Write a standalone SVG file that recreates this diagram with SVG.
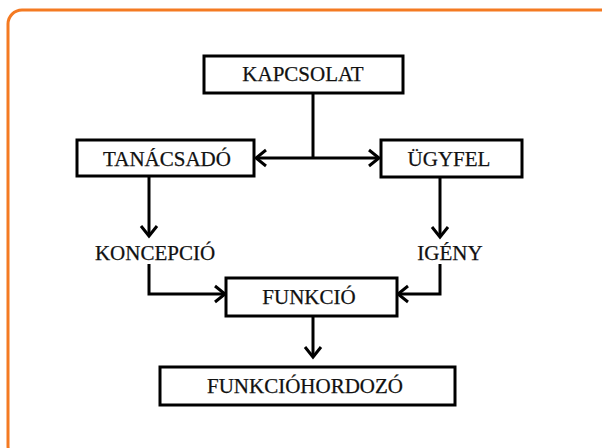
<svg xmlns="http://www.w3.org/2000/svg" width="602" height="448" viewBox="0 0 602 448">
  <style>
    .box { fill: #ffffff; stroke: #000000; stroke-width: 3; }
    .lbl { font-family: "Liberation Serif", "Times New Roman", serif; font-size: 21px; fill: #111111; text-anchor: middle; stroke: #111111; stroke-width: 0.25; }
    .wire { fill: none; stroke: #000000; stroke-width: 3; }
  </style>
  <defs>
    <marker id="chev" markerUnits="userSpaceOnUse" markerWidth="24" markerHeight="24" viewBox="-14 -12 16 24" refX="0" refY="0" orient="auto">
      <path d="M-10,-8 L0,0 L-10,8" fill="none" stroke="#000000" stroke-width="3" stroke-linejoin="miter"/>
    </marker>
  </defs>

  <rect width="602" height="448" fill="#ffffff"/>
  <!-- frame -->
  <rect x="8" y="10" width="620" height="450" rx="14" fill="none" stroke="#F47A22" stroke-width="3"/>

  <!-- connectors -->
  <g id="connectors">
    <path class="wire" d="M313,93 V158"/>
    <path class="wire" d="M313,158 H256" marker-end="url(#chev)"/>
    <path class="wire" d="M313,158 H379" marker-end="url(#chev)"/>
    <path class="wire" d="M149,176 V236" marker-end="url(#chev)"/>
    <path class="wire" d="M440,177 V237" marker-end="url(#chev)"/>
    <path class="wire" d="M149,264 V294 H225" marker-end="url(#chev)"/>
    <path class="wire" d="M440,264 V294 H398" marker-end="url(#chev)"/>
    <path class="wire" d="M313,316 V357" marker-end="url(#chev)"/>
  </g>

  <g id="kapcsolat">
    <rect class="box" x="204" y="56" width="199" height="37"/>
    <text class="lbl" x="303" y="81">KAPCSOLAT</text>
  </g>
  <g id="tanacsado">
    <rect class="box" x="77" y="140" width="177" height="36"/>
    <text class="lbl" x="167" y="166">TANÁCSADÓ</text>
  </g>
  <g id="ugyfel">
    <rect class="box" x="381" y="140" width="141" height="37"/>
    <text class="lbl" x="449" y="166">ÜGYFEL</text>
  </g>
  <g id="koncepcio">
    <text class="lbl" x="155" y="260">KONCEPCIÓ</text>
  </g>
  <g id="igeny">
    <text class="lbl" x="450" y="260">IGÉNY</text>
  </g>
  <g id="funkcio">
    <rect class="box" x="226" y="278" width="171" height="38"/>
    <text class="lbl" x="309" y="304">FUNKCIÓ</text>
  </g>
  <g id="funkciohordozo">
    <rect class="box" x="160" y="367" width="295" height="38"/>
    <text class="lbl" x="305" y="393">FUNKCIÓHORDOZÓ</text>
  </g>
</svg>
